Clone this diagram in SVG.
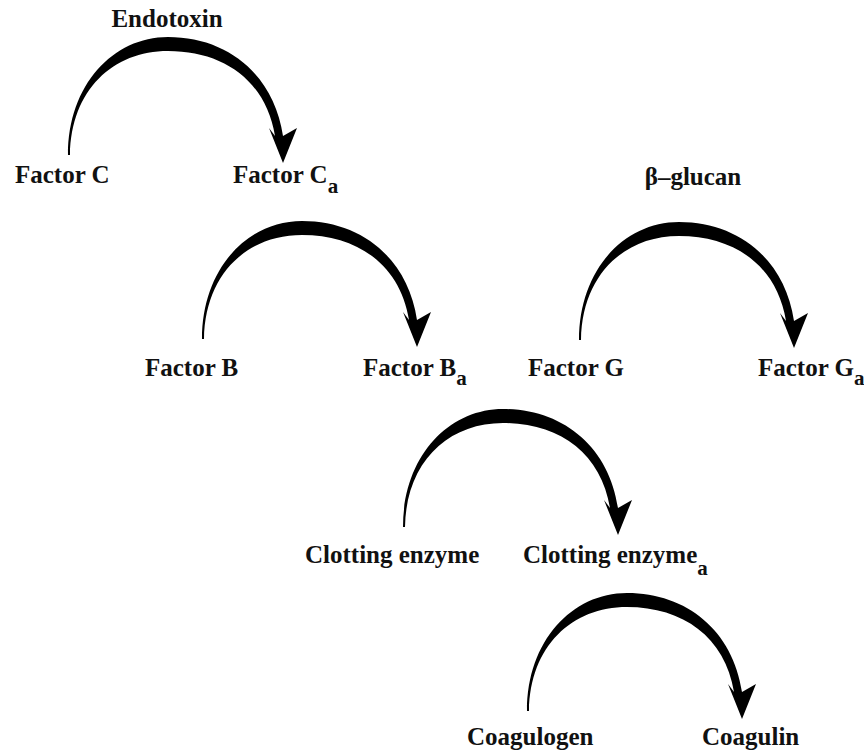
<svg xmlns="http://www.w3.org/2000/svg" xmlns:xlink="http://www.w3.org/1999/xlink" width="864" height="755" viewBox="0 0 864 755">
<style>
text{font-family:"Liberation Serif","Times New Roman",serif;font-weight:bold;font-size:25px;fill:#111;}
.sub{font-size:21px;}
.arc{fill:#000;}
</style>
<defs>
<path id="arcArrow" class="arc" d="M0,0 C0,-70 45,-118 100,-118 C160,-118 206,-80 215,-19 L229,-27 L215,8 L201,-27 L207,-19 C198,-74 156,-104 100,-104 C45,-104 3,-65 2,0 Z"/>
</defs>
<rect width="864" height="755" fill="#fff"/>
<g id="connectors">
<use xlink:href="#arcArrow" transform="translate(68,155)"/>
<use xlink:href="#arcArrow" transform="translate(202,339)"/>
<use xlink:href="#arcArrow" transform="translate(579,340)"/>
<use xlink:href="#arcArrow" transform="translate(403,527)"/>
<use xlink:href="#arcArrow" transform="translate(527,711)"/>
</g>
<g id="endotoxin"><text x="167" y="27" text-anchor="middle">Endotoxin</text></g>
<g id="factorC"><text x="15" y="183">Factor C</text></g>
<g id="factorCa"><text x="233" y="183">Factor C<tspan class="sub" dy="10">a</tspan></text></g>
<g id="bglucan"><text x="693" y="185" text-anchor="middle">β–glucan</text></g>
<g id="factorB"><text x="145" y="376">Factor B</text></g>
<g id="factorBa"><text x="363" y="376">Factor B<tspan class="sub" dy="9">a</tspan></text></g>
<g id="factorG"><text x="528" y="376">Factor G</text></g>
<g id="factorGa"><text x="758" y="376">Factor G<tspan class="sub" dy="9">a</tspan></text></g>
<g id="clotting"><text x="305" y="563">Clotting enzyme</text></g>
<g id="clottingA"><text x="523" y="563">Clotting enzyme<tspan class="sub" dy="12">a</tspan></text></g>
<g id="coagulogen"><text x="467" y="745">Coagulogen</text></g>
<g id="coagulin"><text x="702" y="745">Coagulin</text></g>
</svg>
